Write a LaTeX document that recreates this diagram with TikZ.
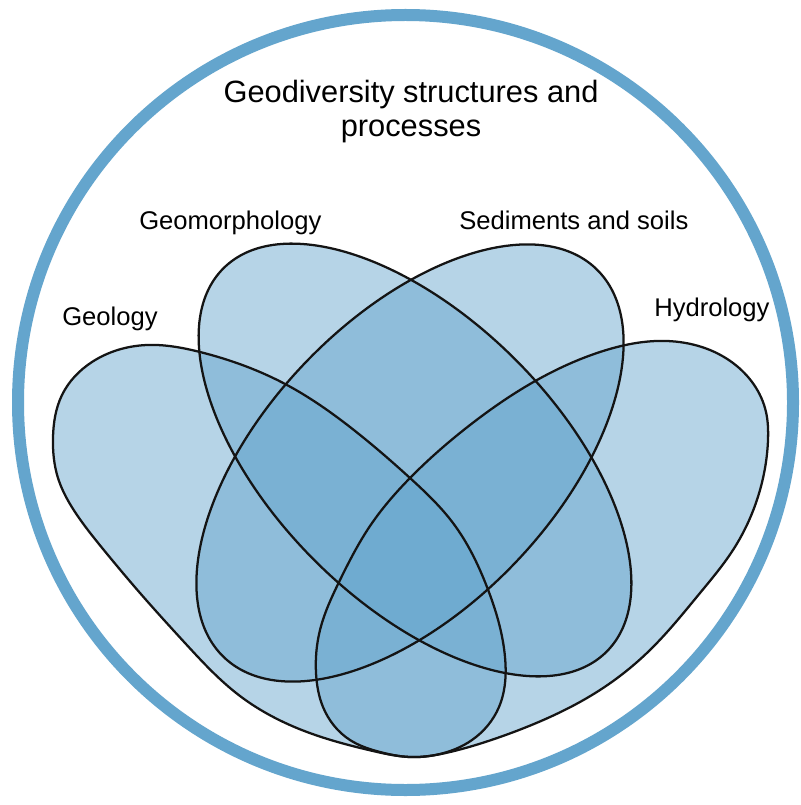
\documentclass[tikz,border=0pt]{standalone}
\usepackage{fontspec}
\setmainfont{Liberation Sans}
\usetikzlibrary{hobby}
\definecolor{ringblue}{RGB}{100,165,205}
\tikzset{
  ringline/.style={draw=ringblue, line width=9pt},
  vennfill/.style={fill=ringblue, fill opacity=0.47},
  vennline/.style={draw=black!92, line width=1.7pt},
  titletext/.style={font=\fontsize{23.1pt}{27pt}\selectfont, anchor=base, inner sep=0pt},
  labeltext/.style={font=\fontsize{19.2pt}{23pt}\selectfont, anchor=base west, inner sep=0pt},
}
\newcommand{\pathGeology}[1]{\path[#1] plot[closed hobby] coordinates {
 (147,345) (200,352) (287,385) (350,427) (410,478) (453,523) (487,587) (505,657)
 (499,707) (472,740) (440,754) (410,757) (373,751) (307,732) (240,696)
 (185,643) (140,593) (103,549) (75,512) (58,478) (53,437) (62,395) (92,362)};}
\newcommand{\pathHydrology}[1]{\path[#1] plot[closed hobby] coordinates {
 (667,341) (733,363) (766,412) (768,440) (760,490) (733,550) (700,593) (650,650)
 (600,690) (550,717) (500,737) (450,752) (410,757) (380,752) (350,740) (323,707)
 (316,673) (320,630) (340,580) (370,526) (410,478) (470,425) (537,380) (600,352)};}
\newcommand{\pathSediments}[1]{\path[#1, rotate around={46.2:(410,463)}] (410,463) ellipse[x radius=269, y radius=145];}
\newcommand{\pathGeomorph}[1]{\path[#1, rotate around={-45:(415,460)}] (415,460) ellipse[x radius=271, y radius=142];}
\begin{document}
\begin{tikzpicture}[x=0.75pt, y=-0.75pt]
  \useasboundingbox (0,0) rectangle (800,805);
  \fill[white] (0,0) rectangle (800,805);
  \draw[ringline] (405.5,402.5) circle[radius=387.5];
  % fills first
  \pathGeology{vennfill}
  \pathHydrology{vennfill}
  \pathGeomorph{vennfill}
  \pathSediments{vennfill}
  % outlines on top
  \pathGeology{vennline}
  \pathHydrology{vennline}
  \pathGeomorph{vennline}
  \pathSediments{vennline}
  % texts
  \node[titletext] (title1) at (411,102.3) {Geodiversity structures and};
  \node[titletext] (title2) at (411,137) {processes};
  \node[labeltext] (geomorph) at (139,230) {Geomorphology};
  \node[labeltext] (sediments) at (459,230) {Sediments and soils};
  \node[labeltext] (geology) at (62,325.5) {Geology};
  \node[labeltext] (hydrology) at (654,316) {Hydrology};
\end{tikzpicture}
\end{document}
